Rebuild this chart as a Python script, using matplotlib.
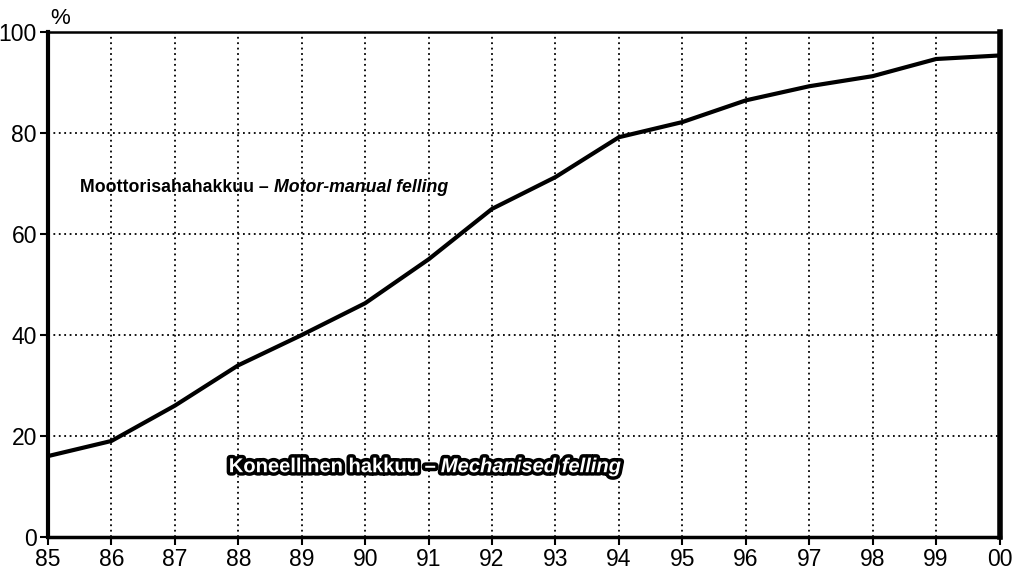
import numpy as np
import matplotlib.pyplot as plt
import matplotlib.patheffects as pe

# share of mechanised felling, %
years = ["85", "86", "87", "88", "89", "90", "91", "92", "93", "94",
         "95", "96", "97", "98", "99", "00"]
mechanised = [16, 19, 26, 34, 40, 46.3, 55, 65, 71.3, 79.2,
              82.2, 86.5, 89.3, 91.3, 94.7, 95.4]
yticks = [0, 20, 40, 60, 80, 100]

plt.rcParams['font.family'] = ['Liberation Sans', 'DejaVu Sans']

fig = plt.figure(figsize=(10.21, 5.76), dpi=100)
ax = fig.add_axes([0.047, 0.068, 0.932, 0.876])

x = np.arange(len(years))
ax.plot(x, mechanised, color='black', lw=3, solid_joinstyle='round', zorder=3)

ax.set_xlim(0, len(years) - 1)
ax.set_ylim(0, 100)
ax.set_xticks(x)
ax.set_xticklabels(years)
ax.set_yticks(yticks)
ax.set_yticklabels([str(v) for v in yticks])
for lab in ax.get_xticklabels() + ax.get_yticklabels():
    lab.set_fontsize(16.5)

ax.grid(True, color='black', linestyle=(0, (1, 2)), linewidth=1.3)
ax.tick_params(direction='out', length=6, width=1.5, pad=2)

ax.spines['left'].set_linewidth(3)
ax.spines['bottom'].set_linewidth(2.5)
ax.spines['right'].set_linewidth(4)
ax.spines['top'].set_linewidth(1.8)

ax.text(0.002, 1.006, "%", transform=ax.transAxes, fontsize=16,
        ha='left', va='bottom')

t0 = ax.text(0.5, 69.3, "Moottorisahahakkuu –", fontsize=12.8,
             fontweight='bold', ha='left', va='center')
ax.annotate("Motor-manual felling", xy=(1, 0.5), xycoords=t0,
            xytext=(4, 0), textcoords='offset points', fontsize=12.8,
            fontweight='bold', style='italic', ha='left', va='center')

fx = [pe.Stroke(linewidth=5, foreground='black'), pe.Normal()]
t1 = ax.text(2.85, 13.9, "Koneellinen hakkuu –", fontsize=14.5,
             fontweight='bold', color='white', ha='left', va='center')
t1.set_path_effects(fx)
t2 = ax.annotate("Mechanised felling", xy=(1, 0.5), xycoords=t1,
                 xytext=(4, 0), textcoords='offset points', fontsize=14.5,
                 fontweight='bold', style='italic', color='white',
                 ha='left', va='center')
t2.set_path_effects(fx)

fig.savefig("out.png", dpi=100)
